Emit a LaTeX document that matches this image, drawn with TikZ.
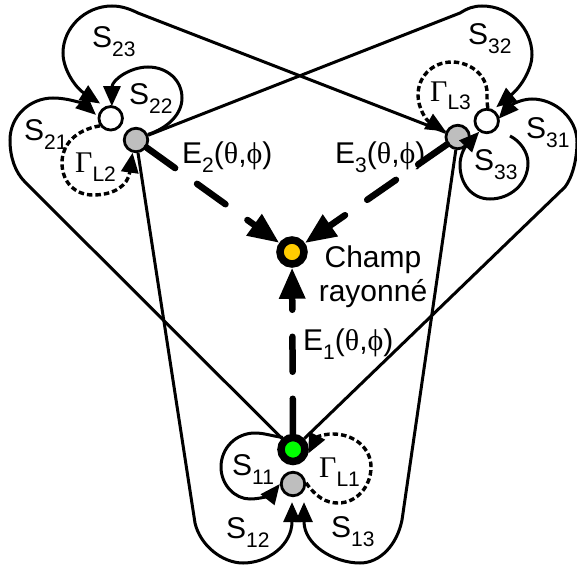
\documentclass[tikz,border=0pt]{standalone}
\usepackage{fontspec}
\setmainfont{Liberation Sans}
\newfontfamily\symfont{Liberation Serif}
\usepackage{tikz}
\usetikzlibrary{arrows.meta}
\definecolor{padgray}{RGB}{190,190,190}
\definecolor{champ}{RGB}{255,204,0}
\newcommand{\lbl}[2]{#1\raisebox{-9pt}{\fontsize{21}{21}\selectfont #2}}
\newcommand{\lblG}[1]{\lbl{{\symfont Γ}}{#1}}
\newcommand{\lblE}[1]{\lbl{E}{#1}({\symfont θ},{\symfont ϕ})}
\tikzset{
  pad/.style={draw, circle, line width=2.8pt, minimum size=23.5pt, inner sep=0pt, fill=#1},
  pad/.default=white,
  port/.style={draw, circle, line width=7.5pt, minimum size=24pt, inner sep=0pt, fill=#1},
  coup/.style={-{Triangle[length=20pt,width=17pt]}, line width=3pt},
  refl/.style={coup, dash pattern=on 5.5pt off 3pt, line width=3.4pt},
  field/.style={-{Triangle[length=31pt,width=25pt]}, line width=6.5pt, line cap=round, dash pattern=on 35pt off 27pt},
  lab/.style={font=\fontsize{30}{34}\selectfont, inner sep=0pt, anchor=base west}
}
\begin{document}
\begin{tikzpicture}[x=1pt,y=-1pt]
\useasboundingbox (0,0) rectangle (577,567);
\node[pad=padgray] (g2) at (136,140) {};
\node[pad] (w2) at (110.7,118.3) {};
\node[pad=padgray] (g3) at (457.7,137) {};
\node[pad] (w3) at (486.7,121) {};
\node[port=green] (p1) at (293,449.5) {};
\node[pad=padgray] (g1) at (293,484) {};
\node[port=champ] (c) at (292,252) {};
\coordinate (s33a) at (510,136);
\draw[field] (g2) -- (c);
\draw[field] (g3) -- (c);
\draw[field] (p1) -- (c);
% node 2
\draw[coup] (g2.25) .. controls (168,128) and (182,114) .. (182,98) .. controls (182,80) and (167,67) .. (148,67) .. controls (130,67) and (112,80) .. ([yshift=-1pt]w2.85);
\draw[coup] (g3) -- (138,13) .. controls (128,8) and (120,6) .. (112,6) .. controls (85,6) and (63,28) .. (63,53) .. controls (63,70) and (76,88) .. ([shift={(-3pt,4pt)}]w2.125);
\draw[coup] (p1) -- (25,182) .. controls (15,172) and (10,157) .. (10,140) .. controls (10,116) and (30,98) .. (53,98) .. controls (70,98) and (85,105) .. ([xshift=-2pt]w2.165);
\draw[refl] (w2.215) .. controls (75,130) and (62,145) .. (62,163) .. controls (62,182) and (75,195) .. (93,195) .. controls (115,195) and (128,185) .. (g2.255);
% node 3
\draw[coup] (g2) -- (460,13) .. controls (468,8) and (474,6) .. (482,6) .. controls (510,6) and (532,28) .. (532,55) .. controls (532,68) and (522,86) .. ([shift={(2pt,3pt)}]w3.55);
\draw[coup] (p1) -- (565,187) .. controls (572,178) and (577,160) .. (577,142) .. controls (577,118) and (555,99) .. (532,99) .. controls (520,99) and (510,106) .. ([xshift=-1pt]w3.10);
\draw[coup] (s33a) .. controls (520,141) and (528,152) .. (528,163) .. controls (528,184) and (510,199) .. (490,199) .. controls (472,199) and (460,184) .. (460,165) .. controls (460,155) and (465,147) .. (w3.235);
\draw[refl] (w3.85) .. controls (487,104) and (487,100) .. (487,93) .. controls (487,75) and (470,62) .. (452,62) .. controls (432,62) and (418,77) .. (418,95) .. controls (418,108) and (426,120) .. (g3.155);
% node 1
\draw[coup] (p1.130) .. controls (272,436) and (264,433) .. (255,433) .. controls (236,433) and (221,448) .. (221,467) .. controls (221,485) and (235,499) .. (250,499) .. controls (262,499) and (272,494) .. (g1.180);
\draw[coup] (g2) -- (195,523) .. controls (200,545) and (222,563) .. (243,563) .. controls (268,563) and (292,545) .. ([shift={(-1pt,-5pt)}]g1.south);
\draw[coup] (g3) -- (402,520) .. controls (397,545) and (380,563) .. (360,563) .. controls (334,563) and (304,545) .. ([shift={(11pt,-5pt)}]g1.south);
\draw[refl] (g1.5) .. controls (316,497) and (326,503) .. (338,503) .. controls (357,503) and (371,486) .. (371,467) .. controls (371,448) and (354,434) .. (333,434) .. controls (322,434) and (316,438) .. (p1.345);
% labels
\node[lab] (s23) at (92,48) {\lbl{S}{23}};
\node[lab] (s22) at (129,104) {\lbl{S}{22}};
\node[lab] (s21) at (24,140) {\lbl{S}{21}};
\node[lab] (gl2) at (75,172) {\lblG{L2}};
\node[lab] (e2) at (182,163) {\lblE{2}};
\node[lab] (e3) at (335,163) {\lblE{3}};
\node[lab] (s32) at (468,45) {\lbl{S}{32}};
\node[lab] (gl3) at (430,101) {\lblG{L3}};
\node[lab] (s31) at (526,138) {\lbl{S}{31}};
\node[lab] (s33) at (474,170) {\lbl{S}{33}};
\node[lab, anchor=center, align=center] (champ) at (373,277) {Champ\\rayonné};
\node[lab] (e1) at (303,350) {\lblE{1}};
\node[lab] (s11) at (232,475) {\lbl{S}{11}};
\node[lab] (gl1) at (319,477) {\lblG{L1}};
\node[lab] (s12) at (226,538) {\lbl{S}{12}};
\node[lab] (s13) at (331,537) {\lbl{S}{13}};
\end{tikzpicture}
\end{document}
